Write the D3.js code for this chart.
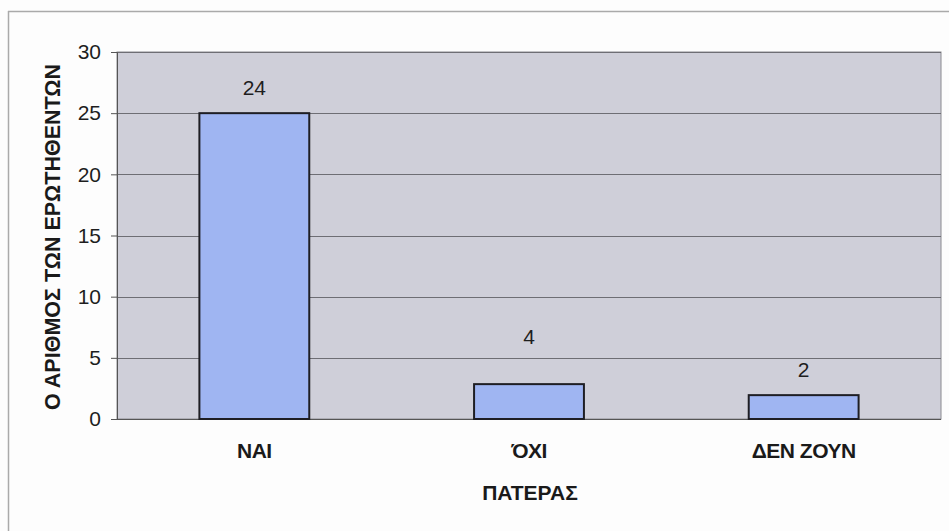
<!DOCTYPE html>
<html><head><meta charset="utf-8">
<script src="https://cdn.jsdelivr.net/npm/d3@7"></script>
<style>body{margin:0;background:#fdfdfd;} svg{display:block;font-family:"Liberation Sans",Arial,sans-serif;}</style>
</head><body>
<svg id="c" width="949" height="531"></svg>
<script>
const categories = ["ΝΑΙ", "ΌΧΙ", "ΔΕΝ ΖΟΥΝ"];
const values = [25, 2.85, 1.95];
const valueLabels = ["24", "4", "2"];
const yTicks = [0, 5, 10, 15, 20, 25, 30];
const yTitle = "Ο ΑΡΙΘΜΟΣ ΤΩΝ ΕΡΩΤΗΘΕΝΤΩΝ";
const xTitle = "ΠΑΤΕΡΑΣ";

const svg = d3.select("#c");
const m = {left:117, right:941, top:52, bottom:419};

// outer frame
svg.append("line").attr("x1",8).attr("x2",949).attr("y1",11.5).attr("y2",11.5).attr("stroke","#aaa").attr("stroke-width",1.5);
svg.append("line").attr("x1",8.5).attr("x2",8.5).attr("y1",11).attr("y2",531).attr("stroke","#aaa").attr("stroke-width",1.5);

const x = d3.scaleBand().domain(categories).range([m.left, m.right]).paddingInner(0.6).paddingOuter(0.3);
const y = d3.scaleLinear().domain([0,30]).range([m.bottom, m.top]);

svg.append("rect").attr("x",m.left).attr("y",m.top).attr("width",m.right-m.left).attr("height",m.bottom-m.top)
  .attr("fill","#cfcfd9").attr("stroke","#8a8a90").attr("stroke-width",1);

svg.append("g").selectAll("line").data(yTicks.filter(d=>d>0)).join("line")
  .attr("x1",m.left).attr("x2",m.right).attr("y1",d=>Math.round(y(d))+0.5).attr("y2",d=>Math.round(y(d))+0.5)
  .attr("stroke","#6e6e74").attr("stroke-width",1);

const yAxis = d3.axisLeft(y).tickValues(yTicks).tickSize(6).tickPadding(10);
const gy = svg.append("g").attr("transform",`translate(${m.left},0)`).call(yAxis);
gy.select(".domain").attr("stroke","#555");
gy.selectAll(".tick line").attr("stroke","#555");
gy.selectAll("text").attr("font-size",21).attr("fill","#1e1e1e");

svg.append("line").attr("x1",m.left).attr("x2",m.right).attr("y1",m.bottom+0.5).attr("y2",m.bottom+0.5).attr("stroke","#555");

svg.append("g").selectAll("rect").data(values).join("rect")
  .attr("x",(d,i)=>x(categories[i])).attr("width",x.bandwidth())
  .attr("y",d=>y(d)).attr("height",d=>y(0)-y(d))
  .attr("fill","#9fb5f2").attr("stroke","#1e1e24").attr("stroke-width",2);

svg.append("g").selectAll("text").data(values).join("text")
  .attr("x",(d,i)=>x(categories[i])+x.bandwidth()/2)
  .attr("y",(d,i)=>y(d)-18 - (i===1?22:0))
  .attr("text-anchor","middle").attr("font-size",21).attr("fill","#1e1e1e")
  .text((d,i)=>valueLabels[i]);

svg.append("g").selectAll("text").data(categories).join("text")
  .attr("x",d=>x(d)+x.bandwidth()/2).attr("y",458)
  .attr("text-anchor","middle").attr("font-size",21).attr("font-weight","bold").attr("fill","#1a1a1a")
  .attr("letter-spacing","-0.5")
  .text(d=>d);

svg.append("text").attr("x",(m.left+m.right)/2+1).attr("y",500)
  .attr("text-anchor","middle").attr("font-size",21).attr("font-weight","bold").attr("fill","#1a1a1a").text(xTitle);

svg.append("text").attr("transform","translate(60,237) rotate(-90)")
  .attr("text-anchor","middle").attr("font-size",21.5).attr("font-weight","bold").attr("fill","#1a1a1a").text(yTitle);
</script>
</body></html>
